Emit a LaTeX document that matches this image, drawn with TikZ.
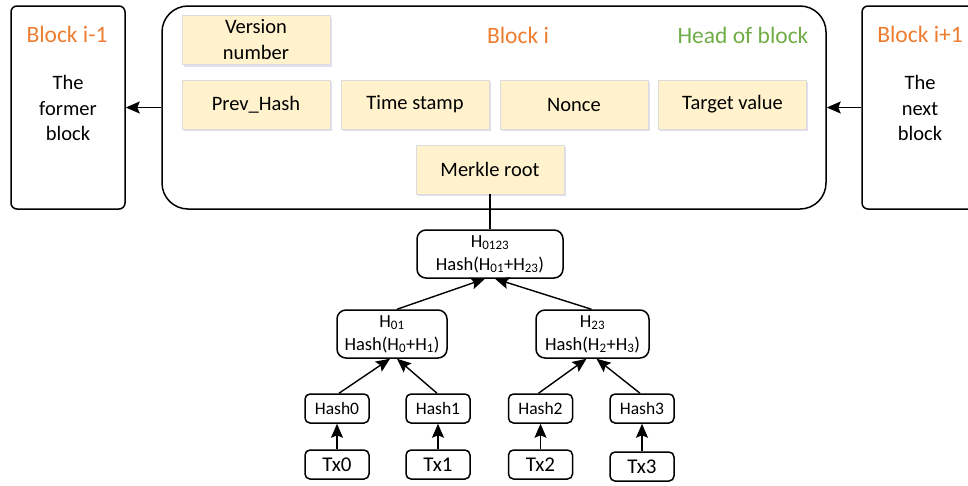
\documentclass[tikz,border=0pt]{standalone}
\usepackage{fontspec}
\setmainfont{Carlito}
\usetikzlibrary{arrows.meta,shadows}
\definecolor{orng}{HTML}{ED7D31}
\definecolor{grn}{HTML}{70AD47}
\definecolor{yfill}{HTML}{FFF2CC}
\definecolor{yborder}{HTML}{DCDCDC}
\tikzset{
  bigblock/.style={draw, line width=1.5pt, rounded corners=6pt, inner sep=0pt},
  mainblock/.style={draw, line width=1.5pt, rounded corners=26pt, inner sep=0pt},
  field/.style={draw=yborder, line width=0.8pt, fill=yfill, minimum width=148pt, minimum height=49pt, inner sep=0pt, align=center,
     font=\fontsize{20.5}{26}\selectfont,
     drop shadow={opacity=0.18, shadow xshift=1.5pt, shadow yshift=-2pt, fill=blue!40!gray}},
  title/.style={font=\fontsize{23.5}{28}\selectfont, inner sep=0pt},
  body/.style={font=\fontsize{20.5}{25.5}\selectfont, align=center, inner sep=0pt},
  hnode/.style={draw, line width=1.5pt, rounded corners=9pt, minimum height=48pt, inner sep=0pt, align=center,
     font=\fontsize{18.5}{23}\selectfont},
  leaf/.style={draw, line width=1.5pt, rounded corners=5pt, minimum width=64pt, minimum height=29pt, inner sep=0pt,
     font=\fontsize{17.5}{20}\selectfont},
  txleaf/.style={leaf, font=\fontsize{21}{24}\selectfont},
  arr/.style={line width=1.4pt, -{Stealth[length=14pt, width=12pt, inset=2.5pt]}},
  ln/.style={line width=1.4pt}
}
\begin{document}
\begin{tikzpicture}[x=1pt,y=-1pt]
\useasboundingbox (0,0) rectangle (968,485);
% blocks
\node[bigblock, minimum width=114pt, minimum height=203pt] (prev) at (68,107.5) {};
\node[mainblock, minimum width=664pt, minimum height=203pt] (cur) at (494,107.5) {};
\node[bigblock, minimum width=130pt, minimum height=203pt] (next) at (927,107.5) {};
% titles
\node[title, text=orng] (tprev) at (67,34) {Block i-1};
\node[body] (bprev) at (68,108) {The\\former\\block};
\node[title, text=orng] (tcur) at (518,35) {Block i};
\node[title, text=grn] (thead) at (743,35) {Head of block};
\node[title, text=orng] (tnext) at (920,34) {Block i+1};
\node[body] (bnext) at (920,108) {The\\next\\block};
% fields
\node[field] (ver) at (256,40) {Version\\number};
\node[field] (ph) at (256,104.5) {Prev\_Hash};
\node[field] (ts) at (415,104.5) {Time stamp};
\node[field] (nonce) at (574,104.5) {Nonce};
\node[field] (tv) at (732.5,104.5) {Target value};
\node[field] (mr) at (490,169.5) {Merkle root};
% arrows between blocks
\draw[arr] (cur.west) -- (prev.east);
\draw[arr] (next.west) -- (cur.east);
% merkle tree
\node[hnode, minimum width=146pt] (h0123) at (490,254) {H\textsubscript{0123}\\Hash(H\textsubscript{01}+H\textsubscript{23})};
\node[hnode, minimum width=110pt] (h01) at (392,334) {H\textsubscript{01}\\Hash(H\textsubscript{0}+H\textsubscript{1})};
\node[hnode, minimum width=113pt] (h23) at (592.5,334) {H\textsubscript{23}\\Hash(H\textsubscript{2}+H\textsubscript{3})};
\node[leaf] (hash0) at (337,408.5) {Hash0};
\node[leaf] (hash1) at (438,408.5) {Hash1};
\node[leaf] (hash2) at (540.5,408.5) {Hash2};
\node[leaf] (hash3) at (642,408.5) {Hash3};
\node[txleaf] (tx0) at (337,464.5) {Tx0};
\node[txleaf] (tx1) at (438,464.5) {Tx1};
\node[txleaf] (tx2) at (540.5,464.5) {Tx2};
\node[txleaf] (tx3) at (642,466.5) {Tx3};
\draw[ln] (mr.south) -- (h0123.north);
\draw[arr] ([xshift=5pt]h01.north) -- ([xshift=-5pt]h0123.south);
\draw[arr] ([xshift=-1pt]h23.north) -- ([xshift=5pt]h0123.south);
\draw[arr] ([xshift=2pt]hash0.north) -- ([xshift=-2pt]h01.south);
\draw[arr] ([xshift=-1pt]hash1.north) -- ([xshift=5pt]h01.south);
\draw[arr] ([xshift=-2pt]hash2.north) -- ([xshift=-6pt]h23.south);
\draw[arr] ([xshift=-2pt]hash3.north) -- ([xshift=4pt]h23.south);
\draw[arr] (tx0.north) -- (hash0.south);
\draw[arr] (tx1.north) -- (hash1.south);
\draw[arr] (tx2.north) -- (hash2.south);
\draw[arr] (tx3.north) -- (hash3.south);
\end{tikzpicture}
\end{document}
